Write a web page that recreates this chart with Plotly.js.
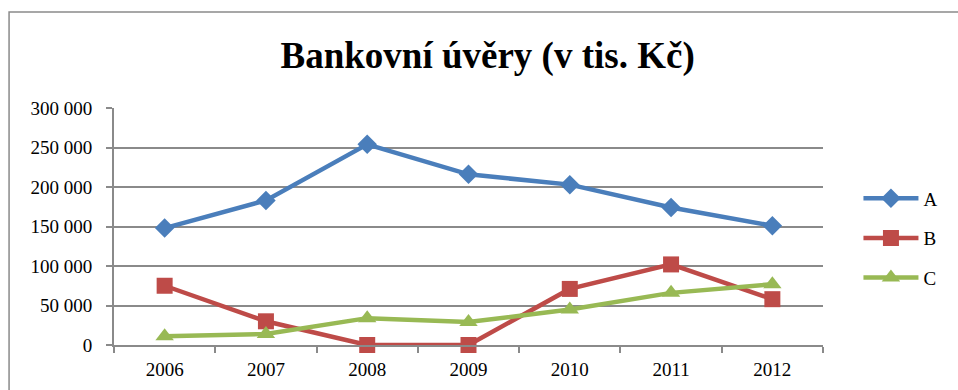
<!DOCTYPE html>
<html><head><meta charset="utf-8">
<script src="https://cdn.plot.ly/plotly-3.0.1.min.js"></script>
<style>html,body{margin:0;padding:0;background:#fff;}#chart{width:958px;height:390px;}</style>
</head><body><div id="chart"></div>
<script>
const years = ['2006','2007','2008','2009','2010','2011','2012'];
const seriesA = [148000, 183000, 254000, 216000, 203000, 174000, 151000];
const seriesB = [75000, 30000, 0, 0, 71000, 102000, 58000];
const seriesC = [11000, 14000, 34000, 29000, 45000, 66000, 77000];
const names = ['A','B','C'];
const colors = ['#4A7EBB','#BE4B48','#98B954'];
const symbols = ['diamond','square','triangle-up'];
const values = [seriesA, seriesB, seriesC];
const SERIF = 'Liberation Serif, Times New Roman, serif';

const traces = values.map((v,i)=>({
  x: years, y: v, name: names[i], legendgroup: names[i], type:'scatter', mode:'lines+markers',
  cliponaxis:false,
  line:{color:colors[i], width:4.5},
  marker:{symbol:symbols[i], size: i===0?15:16, color:colors[i], line:{width:0}}
}));

const layout = {
  width:958, height:390,
  margin:{l:114, r:135, t:108, b:45},
  paper_bgcolor:'#fff', plot_bgcolor:'#fff',
  separators:'. ',
  font:{family:SERIF, color:'#000', size:19},
  title:{text:'<b>Bankovní úvěry (v tis. Kč)</b>', x:0.509, xanchor:'center', y:0.86, yanchor:'middle',
    font:{family:SERIF, size:37, color:'#000'}},
  xaxis:{type:'category', range:[-0.5,6.5], showgrid:false, showline:true, linecolor:'#8a8a8a', linewidth:2,
    ticks:'outside', tickson:'boundaries', ticklen:6, tickcolor:'#8a8a8a', tickwidth:2, ticklabelstandoff:6,
    tickfont:{family:SERIF, size:19, color:'#000'}, zeroline:false, fixedrange:true},
  yaxis:{range:[0,300000], dtick:50000, tickformat:',d', showgrid:true, gridcolor:'#8a8a8a', gridwidth:2,
    showline:true, linecolor:'#8a8a8a', linewidth:2, ticks:'outside', ticklen:6, tickcolor:'#8a8a8a', tickwidth:2, ticklabelstandoff:10,
    tickfont:{family:SERIF, size:19, color:'#000'}, zeroline:false, fixedrange:true},
  legend:{x:1.05, y:0.45, xanchor:'left', yanchor:'middle', font:{family:SERIF, size:19, color:'#000'}, tracegroupgap:12, itemwidth:55, bgcolor:'rgba(0,0,0,0)'},
  shapes:[{type:'rect', xref:'paper', yref:'paper', x0:-0.148, x1:1.3, y0:-0.4, y1:1.405, line:{color:'#8a8a8a', width:1.5}, layer:'below'}],
  showlegend:true
};
Plotly.newPlot('chart', traces, layout, {displayModeBar:false, staticPlot:true});
</script></body></html>
